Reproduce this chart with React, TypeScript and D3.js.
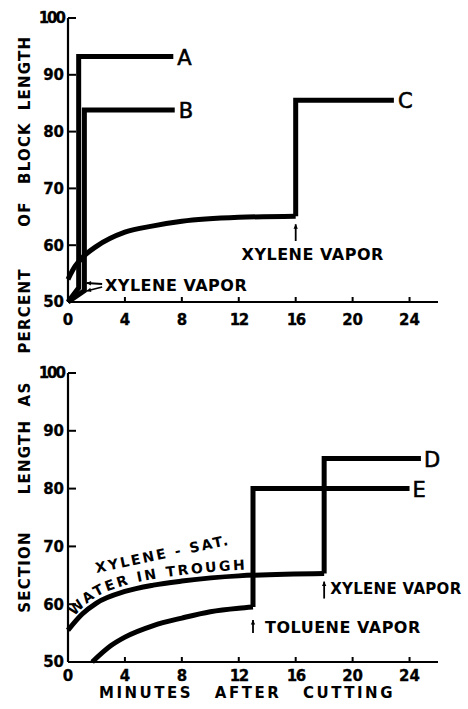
import React from 'react';
import * as d3 from 'd3';

const W = 468;
const H = 709;

const xTicks = [0, 4, 8, 12, 16, 20, 24];
const yTicks = [50, 60, 70, 80, 90, 100];

// top panel (A, B, C)
const seriesA: [number, number][] = [[0, 50], [0.75, 52.5], [0.75, 93.2], [7.4, 93.2]];
const seriesB: [number, number][] = [[0, 50], [1.15, 52], [1.15, 83.8], [7.5, 83.8]];
const curveCMin = [0, 0.5, 1, 2, 4, 6, 8, 12, 16];
const curveCPct = [54, 56.3, 57.8, 59.8, 62.3, 63.4, 64.2, 64.9, 65.1];
const stepC: [number, number][] = [[16, 65.1], [16, 85.5], [22.9, 85.5]];

// bottom panel (D, E)
const curveDMin = [0, 1, 2, 4, 6, 8, 12, 18];
const curveDPct = [55.5, 58.3, 60.2, 62.2, 63.3, 64, 64.9, 65.3];
const stepD: [number, number][] = [[18, 65.3], [18, 85.2], [24.8, 85.2]];
const curveEMin = [1.7, 3, 4, 6, 8, 10, 12, 13];
const curveEPct = [50, 52.8, 54.3, 56.3, 57.6, 58.7, 59.3, 59.5];
const stepE: [number, number][] = [[13, 59.5], [13, 80], [24, 80]];

const FONT = '"DejaVu Sans", sans-serif';

const x = d3.scaleLinear().domain([0, 26]).range([68, 438]);
const yTop = d3.scaleLinear().domain([50, 100]).range([302, 18]);
const yBot = d3.scaleLinear().domain([50, 100]).range([662, 373]);

const zip = (a: number[], b: number[]) => a.map((v, i) => [v, b[i]] as [number, number]);

function Axes({ y, labelGap }: { y: d3.ScaleLinear<number, number>; labelGap: number }) {
  const y0 = y(50);
  return (
    <g stroke="#000" fill="none">
      <line x1={x(0)} x2={x(0)} y1={y0} y2={y(100)} strokeWidth={2.2} />
      <line x1={x(0)} x2={x(26)} y1={y0} y2={y0} strokeWidth={2.2} />
      {yTicks.slice(1).map(t => (
        <line key={t} x1={x(0)} x2={x(0) + 8} y1={y(t)} y2={y(t)} strokeWidth={2} />
      ))}
      {xTicks.slice(1).map(t => (
        <line key={t} x1={x(t)} x2={x(t)} y1={y0} y2={y0 - 5} strokeWidth={2} />
      ))}
      <g fill="#000" stroke="#000" strokeWidth={0.3} fontFamily={FONT} fontWeight="bold" fontSize={15}>
        {yTicks.map(t => (
          <text key={t} x={x(0) - 4} y={y(t)} dy="0.36em" textAnchor="end" letterSpacing={t === 100 ? -2 : 0}>
            {t}
          </text>
        ))}
        {xTicks.map(t => (
          <text key={t} x={x(t)} y={y0 + labelGap} textAnchor="middle" letterSpacing={t >= 12 && t < 20 ? -1.5 : 0}>
            {t}
          </text>
        ))}
      </g>
    </g>
  );
}

function Arrow({ x1, y1, x2, y2 }: { x1: number; y1: number; x2: number; y2: number }) {
  const a = Math.atan2(y2 - y1, x2 - x1);
  const h = 5;
  const p1 = [x2 - h * Math.cos(a - 0.45), y2 - h * Math.sin(a - 0.45)];
  const p2 = [x2 - h * Math.cos(a + 0.45), y2 - h * Math.sin(a + 0.45)];
  return (
    <g>
      <line x1={x1} y1={y1} x2={x2} y2={y2} stroke="#000" strokeWidth={1.8} />
      <path d={`M${x2},${y2}L${p1[0]},${p1[1]}L${p2[0]},${p2[1]}Z`} fill="#000" />
    </g>
  );
}

export default function App() {
  const topLine = d3.line<[number, number]>().x(d => x(d[0])).y(d => yTop(d[1]));
  const topCurve = d3.line<[number, number]>().x(d => x(d[0])).y(d => yTop(d[1])).curve(d3.curveMonotoneX);
  const botLine = d3.line<[number, number]>().x(d => x(d[0])).y(d => yBot(d[1]));
  const botCurve = d3.line<[number, number]>().x(d => x(d[0])).y(d => yBot(d[1])).curve(d3.curveMonotoneX);

  const dPts = zip(curveDMin, curveDPct);
  const shifted = (dy: number) =>
    d3.line<[number, number]>().x(d => x(d[0])).y(d => yBot(d[1]) + dy).curve(d3.curveMonotoneX)(dPts) || '';

  const markStyle = { fill: 'none', stroke: '#000', strokeWidth: 5, strokeLinejoin: 'miter' as const };
  const label = { fontFamily: FONT, fontSize: 21, stroke: '#000', strokeWidth: 0.6 };
  const note = { fontFamily: FONT, fontWeight: 'bold' as const, fontSize: 16, letterSpacing: 0.5 };

  const yTitleWords = [
    { t: 'LENGTH', c: 73 }, { t: 'BLOCK', c: 153 }, { t: 'OF', c: 214 }, { t: 'PERCENT', c: 311 },
    { t: 'AS', c: 394 }, { t: 'LENGTH', c: 457 }, { t: 'SECTION', c: 572 },
  ];

  return (
    <svg width={W} height={H} style={{ position: 'absolute', left: 0, top: 0, background: '#fff' }}>
      <defs>
        <path id="trough" d={shifted(-6)} />
      </defs>

      {/* y title */}
      <g fontFamily={FONT} fontWeight="bold" fontSize={15} letterSpacing={1.2}>
        {yTitleWords.map((w, i) => (
          <text key={i} transform={`translate(30,${w.c}) rotate(-90)`} textAnchor="middle">{w.t}</text>
        ))}
      </g>

      {/* top panel */}
      <Axes y={yTop} labelGap={23} />
      <path d={topLine(seriesA) || ''} {...markStyle} />
      <path d={topLine(seriesB) || ''} {...markStyle} />
      <path d={topCurve(zip(curveCMin, curveCPct)) || ''} {...markStyle} />
      <path d={topLine(stepC) || ''} {...markStyle} />
      <text x={x(7.4) + 4} y={yTop(93.2) + 8} {...label}>A</text>
      <text x={x(7.5) + 4} y={yTop(83.8) + 8} {...label}>B</text>
      <text x={x(22.9) + 4} y={yTop(85.5) + 8} {...label}>C</text>

      <Arrow x1={x(2.4)} y1={284} x2={x(1.3)} y2={283} />
      <Arrow x1={x(2.4)} y1={287} x2={x(1.3)} y2={291} />
      <text x={x(2.6)} y={291} {...note}>XYLENE VAPOR</text>
      <Arrow x1={x(16)} y1={yTop(62.5) + 10} x2={x(16)} y2={yTop(65.1) + 8} />
      <text x={x(16) + 17} y={yTop(65.1) + 44} textAnchor="middle" {...note}>XYLENE VAPOR</text>

      {/* bottom panel */}
      <Axes y={yBot} labelGap={19} />
      <path d={botCurve(dPts) || ''} {...markStyle} />
      <path d={botLine(stepD) || ''} {...markStyle} />
      <path d={botCurve(zip(curveEMin, curveEPct)) || ''} {...markStyle} />
      <path d={botLine(stepE) || ''} {...markStyle} />
      <text x={x(24.8) + 3} y={yBot(85.2) + 8} {...label}>D</text>
      <text x={x(24) + 3} y={yBot(80) + 8} {...label}>E</text>

      <g {...note} fontSize={14} letterSpacing={2.4}>
        <text><textPath href="#trough" startOffset={10}>WATER IN TROUGH</textPath></text>
        <text letterSpacing={2.2} transform={`translate(${x(2)},${yBot(65.4)}) rotate(-12)`}>XYLENE - SAT.</text>
      </g>

      <Arrow x1={x(18)} y1={yBot(65.3) + 25} x2={x(18)} y2={yBot(65.3) + 8} />
      <text x={x(18) + 6} y={yBot(65.3) + 20} {...note} fontSize={15} letterSpacing={0.3}>XYLENE VAPOR</text>
      <Arrow x1={x(13)} y1={yBot(59.5) + 26} x2={x(13)} y2={yBot(59.5) + 13} />
      <text x={x(13) + 12} y={yBot(59.5) + 26} {...note}>TOLUENE VAPOR</text>

      <g fontFamily={FONT} fontWeight="bold" fontSize={15} letterSpacing={2.5} textAnchor="middle">
        <text x={146} y={698}>MINUTES</text>
        <text x={248} y={698}>AFTER</text>
        <text x={349} y={698}>CUTTING</text>
      </g>
    </svg>
  );
}
